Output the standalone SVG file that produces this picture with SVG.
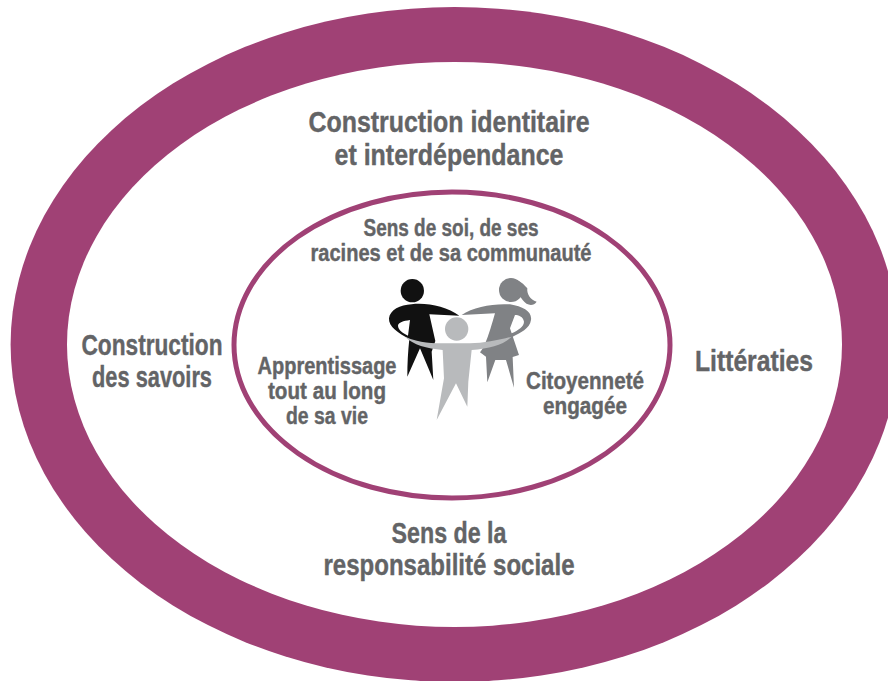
<svg xmlns="http://www.w3.org/2000/svg" width="888" height="681" viewBox="0 0 888 681">
<style>
text{font-family:"Liberation Sans Narrow","Liberation Sans",Arial,sans-serif;font-weight:700;fill:#636466;text-anchor:middle;stroke:#636466;stroke-width:.4}
.a{font-size:30px}.b{font-size:23px}
</style>
<rect width="888" height="681" fill="#fff"/>
<g id="outer-ring"><ellipse cx="454.6" cy="344.5" rx="444" ry="337.5" fill="#a04175"/><ellipse cx="454.5" cy="344.5" rx="387.5" ry="282.5" fill="#fff"/></g>
<g id="inner-ring"><ellipse cx="452" cy="345" rx="218" ry="153" fill="#fff" stroke="#a04175" stroke-width="5"/></g>
<g id="figures" transform="translate(370 265) scale(.3333)">
<circle cx="127" cy="77" r="35" fill="#111"/>
<path fill="#111" fill-rule="evenodd" d="M268 152C230 125 170 112 125 118C90 120 60 135 57 160C55 185 85 205 118 222C114 260 112 295 112 335L150 250L190 345L185 260L196 228L178 148ZM120 165C100 168 85 172 84 182C84 195 100 205 114 212Z"/>
<circle cx="423" cy="75" r="36" fill="#808285"/>
<path fill="#808285" d="M440 45C455 50 465 62 472 70C470 85 480 105 500 110C490 125 470 122 458 105C450 95 445 85 442 80Z"/>
<path fill="#808285" d="M275 150C310 125 370 115 420 118C460 125 487 140 483 165C480 190 450 205 428 215L425 205C445 195 462 185 462 170C460 155 445 150 435 150L420 190L447 270L428 276L432 368L408 285L376 285L352 352L348 275L330 262C345 245 355 215 375 145Z"/>
<circle cx="260" cy="192" r="35" fill="#b8babc"/>
<path fill="#b8babc" d="M105 215C150 235 190 235 225 235L300 235C340 235 390 225 425 215C400 240 360 250 305 255L295 350L292 425L258 355L200 465L222 340L218 255C170 250 130 240 105 215Z"/>
</g>
<g id="label-construction-identitaire"><text class="a" x="449" y="132" textLength="281" lengthAdjust="spacingAndGlyphs">Construction identitaire</text><text class="a" x="449" y="165" textLength="229" lengthAdjust="spacingAndGlyphs">et interdépendance</text></g>
<g id="label-construction-savoirs"><text class="a" x="152" y="355" textLength="141" lengthAdjust="spacingAndGlyphs">Construction</text><text class="a" x="152" y="387" textLength="120" lengthAdjust="spacingAndGlyphs">des savoirs</text></g>
<g id="label-litteraties"><text class="a" x="754" y="371" textLength="118" lengthAdjust="spacingAndGlyphs">Littératies</text></g>
<g id="label-responsabilite"><text class="a" x="449" y="543" textLength="115" lengthAdjust="spacingAndGlyphs">Sens de la</text><text class="a" x="449" y="575" textLength="251" lengthAdjust="spacingAndGlyphs">responsabilité sociale</text></g>
<g id="label-sens-soi"><text class="b" x="451" y="236" textLength="175" lengthAdjust="spacingAndGlyphs">Sens de soi, de ses</text><text class="b" x="451" y="261" textLength="281" lengthAdjust="spacingAndGlyphs">racines et de sa communauté</text></g>
<g id="label-apprentissage"><text class="b" x="327" y="374" textLength="139" lengthAdjust="spacingAndGlyphs">Apprentissage</text><text class="b" x="327" y="399" textLength="118" lengthAdjust="spacingAndGlyphs">tout au long</text><text class="b" x="327" y="424" textLength="82" lengthAdjust="spacingAndGlyphs">de sa vie</text></g>
<g id="label-citoyennete"><text class="b" x="585" y="389" textLength="118" lengthAdjust="spacingAndGlyphs">Citoyenneté</text><text class="b" x="585" y="414" textLength="84" lengthAdjust="spacingAndGlyphs">engagée</text></g>
<g id="connectors"/>
</svg>
